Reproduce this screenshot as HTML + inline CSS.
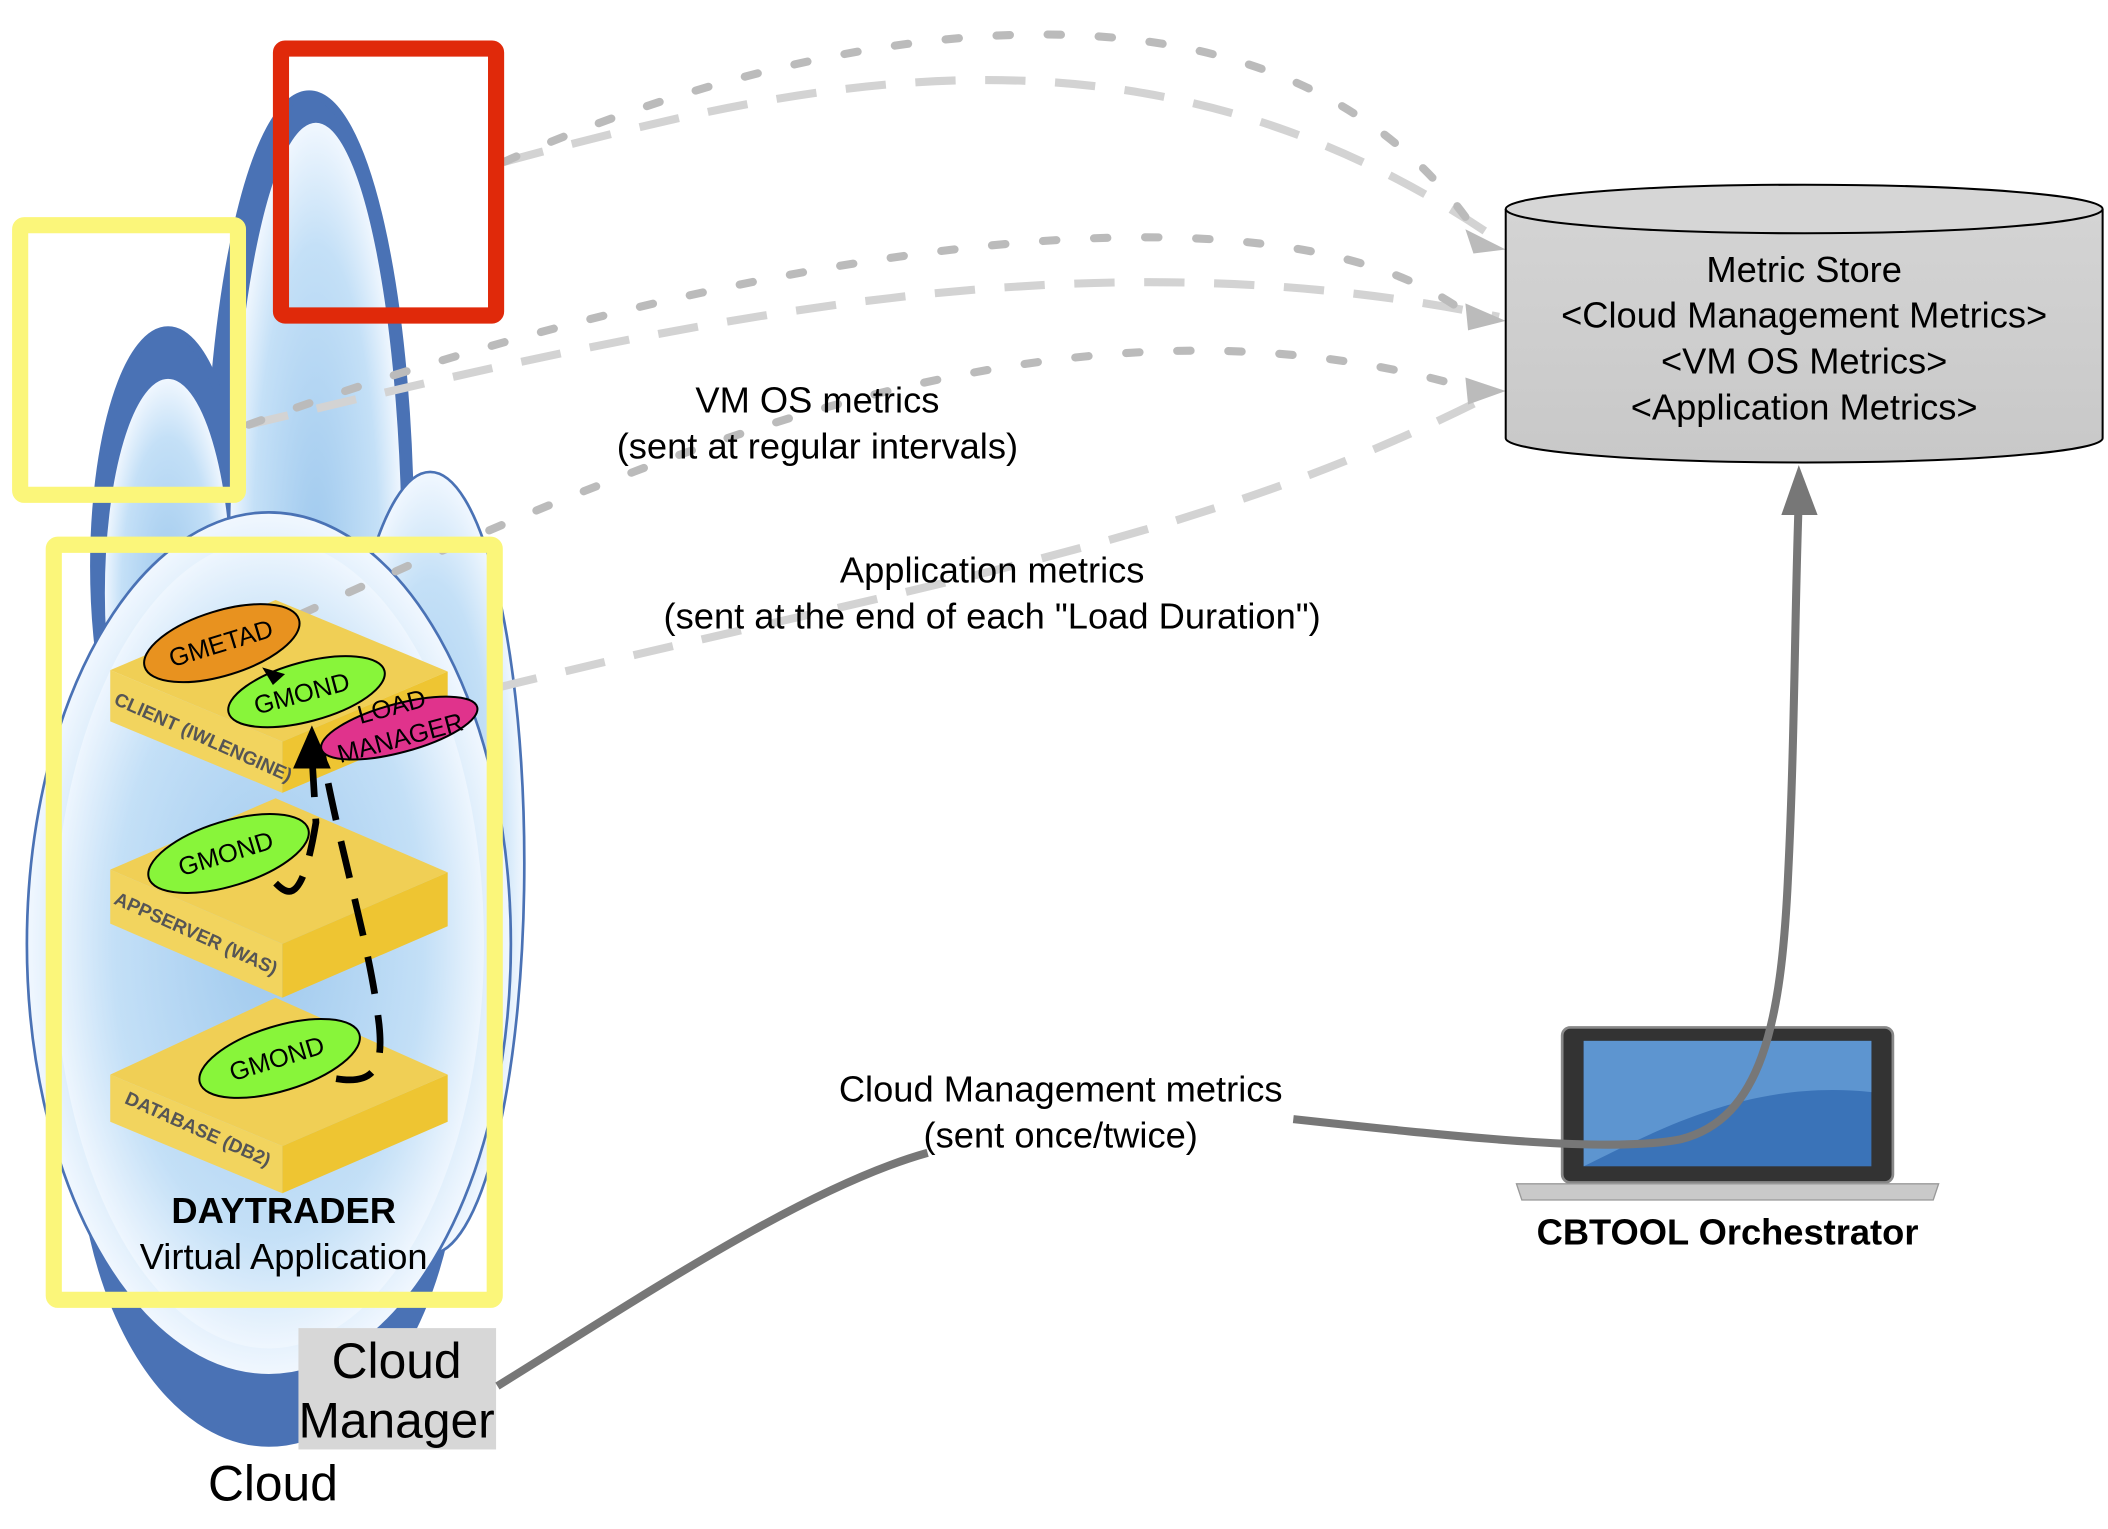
<!DOCTYPE html>
<html><head><meta charset="utf-8"><style>
html,body{margin:0;padding:0;background:#fff;}
svg{display:block;}
text{font-family:"Liberation Sans",sans-serif;}
</style></head><body>
<svg width="2108" height="1529" viewBox="0 0 1568 1134" preserveAspectRatio="none" xmlns="http://www.w3.org/2000/svg">
<defs>
<radialGradient id="cg" cx="50%" cy="50%" r="60%">
<stop offset="0" stop-color="#9fc9ee"/><stop offset="0.6" stop-color="#c4e0f7"/><stop offset="0.85" stop-color="#f4f9ff"/><stop offset="1" stop-color="#a9cff0"/>
</radialGradient>
<linearGradient id="cyl" x1="0" x2="0" y1="0" y2="1"><stop offset="0" stop-color="#d4d4d4"/><stop offset="1" stop-color="#c8c8c8"/></linearGradient>
</defs>
<!-- cloud -->
<g stroke="#4a72b5" stroke-width="6">
<ellipse cx="230" cy="400" rx="75" ry="330" fill="#4a72b5"/>
<ellipse cx="125" cy="420" rx="55" ry="175" fill="#4a72b5"/>
<ellipse cx="200" cy="830" rx="140" ry="240" fill="#4a72b5"/>
</g>
<g stroke="#4a72b5" stroke-width="2">
<ellipse cx="235" cy="420" rx="65" ry="330" fill="url(#cg)"/>
<ellipse cx="125" cy="440" rx="48" ry="160" fill="url(#cg)"/>
<ellipse cx="320" cy="640" rx="70" ry="290" fill="url(#cg)"/>
<ellipse cx="200" cy="700" rx="180" ry="320" fill="url(#cg)"/>
</g>
<ellipse cx="200" cy="700" rx="160" ry="300" fill="url(#cg)" opacity="0.8"/>
<!-- dashed light lines -->
<g fill="none" stroke="#d3d3d3" stroke-width="6" stroke-dasharray="30,22">
<path d="M375,120 C600,60 850,0 1110,175"/>
<path d="M185,315 C500,240 800,170 1115,235"/>
<path d="M370,510 C700,430 900,400 1115,290"/>
</g>
<g fill="none" stroke="#bbbbbb" stroke-width="6" stroke-dasharray="10,28" stroke-linecap="round">
<path d="M375,120 C600,20 950,-50 1100,175"/>
<path d="M185,315 C500,200 950,110 1100,240"/>
<path d="M225,455 C500,330 800,200 1100,290"/>
</g>
<g fill="#bbbbbb"><path d="M1120,185 L1090,170 L1096,188 z"/><path d="M1120,238 L1090,225 L1092,245 z"/><path d="M1120,290 L1090,280 L1092,300 z"/></g>
<!-- boxes -->
<g>
<polygon points="82,797 205,740 333,797 210,850" fill="#f0cf55"/>
<polygon points="82,797 210,850 210,885 82,832" fill="#f2d45e"/>
<polygon points="210,850 333,797 333,832 210,885" fill="#eec532"/>
<polygon points="82,645 205,592 333,647 210,700" fill="#f0cf55"/>
<polygon points="82,645 210,700 210,740 82,685" fill="#f2d45e"/>
<polygon points="210,700 333,647 333,687 210,740" fill="#eec532"/>
<polygon points="82,497 205,445 333,498 210,550" fill="#f0cf55"/>
<polygon points="82,497 210,550 210,588 82,535" fill="#f2d45e"/>
<polygon points="210,550 333,498 333,536 210,588" fill="#eec532"/>
</g>
<g font-size="14" font-weight="bold" fill="#555">
<text transform="translate(84,522) rotate(24)">CLIENT (IWLENGINE)</text>
<text transform="translate(84,670) rotate(24)">APPSERVER (WAS)</text>
<text transform="translate(92,818) rotate(24)">DATABASE (DB2)</text>
</g>
<!-- ellipses -->
<g stroke="#000" stroke-width="1.5">
<ellipse cx="165" cy="477" rx="60" ry="24" transform="rotate(-17 165 477)" fill="#e8921f"/>
<ellipse cx="228" cy="513" rx="60" ry="22" transform="rotate(-15 228 513)" fill="#88f53a"/>
<ellipse cx="297" cy="540" rx="60" ry="18" transform="rotate(-15 297 540)" fill="#e0338c"/>
<ellipse cx="170" cy="633" rx="62" ry="24" transform="rotate(-17 170 633)" fill="#88f53a"/>
<ellipse cx="208" cy="785" rx="62" ry="24" transform="rotate(-17 208 785)" fill="#88f53a"/>
</g>
<g font-size="19" fill="#000">
<text transform="translate(128,495) rotate(-17)">GMETAD</text>
<text transform="translate(191,530) rotate(-15)">GMOND</text>
<text transform="translate(268,537) rotate(-15)">LOAD</text>
<text transform="translate(253,566) rotate(-15)">MANAGER</text>
<text transform="translate(135,650) rotate(-17)">GMOND</text>
<text transform="translate(173,802) rotate(-17)">GMOND</text>
</g>
<path d="M195,495 L212,500 L203,508 z" fill="#000"/>
<!-- black dashed arrows -->
<g fill="none" stroke="#000" stroke-width="5" stroke-dasharray="28,16">
<path d="M205,655 C215,665 225,670 235,610 L232,560"/>
<path d="M250,800 C280,805 285,790 282,760 C275,700 255,640 240,560"/>
</g>
<path d="M218,570 L232,538 L246,570 z" fill="#000"/>
<!-- yellow boxes -->
<g fill="none" stroke="#fbf67a" stroke-width="12">
<rect x="15" y="167" width="162" height="200" rx="3"/>
<rect x="40" y="404" width="328" height="560" rx="3"/>
</g>
<rect x="209" y="36" width="160" height="198" rx="3" fill="none" stroke="#e0290a" stroke-width="12"/>
<!-- labels -->
<text x="211" y="907" font-size="27" font-weight="bold" text-anchor="middle">DAYTRADER</text>
<text x="211" y="941" font-size="27" text-anchor="middle">Virtual Application</text>
<rect x="222" y="985" width="147" height="90" fill="#d7d7d7"/>
<text x="295" y="1022" font-size="37" text-anchor="middle">Cloud</text>
<text x="295" y="1066" font-size="37" text-anchor="middle">Manager</text>
<text x="203" y="1113" font-size="37" text-anchor="middle">Cloud</text>
<g font-size="27" text-anchor="middle">
<text x="608" y="306">VM OS metrics</text>
<text x="608" y="340">(sent at regular intervals)</text>
<text x="738" y="432">Application metrics</text>
<text x="738" y="466">(sent at the end of each "Load Duration")</text>
<text x="789" y="817">Cloud Management metrics</text>
<text x="789" y="851">(sent once/twice)</text>
</g>
<!-- cylinder -->
<path d="M1120,155 L1120,325 A222,18 0 0 0 1564,325 L1564,155" fill="url(#cyl)" stroke="#000" stroke-width="1.5"/>
<ellipse cx="1342" cy="155" rx="222" ry="18" fill="#d6d6d6" stroke="#000" stroke-width="1.5"/>
<g font-size="27" text-anchor="middle">
<text x="1342" y="209">Metric Store</text>
<text x="1342" y="243">&lt;Cloud Management Metrics&gt;</text>
<text x="1342" y="277">&lt;VM OS Metrics&gt;</text>
<text x="1342" y="311">&lt;Application Metrics&gt;</text>
</g>
<!-- laptop -->
<rect x="1162" y="762" width="246" height="115" rx="6" fill="#333" stroke="#888" stroke-width="2"/>
<rect x="1178" y="772" width="214" height="93" fill="#3a73b8"/>
<path d="M1178,772 L1392,772 L1392,810 C1300,800 1230,840 1178,865 z" fill="#5d95d0"/>
<path d="M1128,878 L1442,878 L1438,890 L1132,890 z" fill="#c9c9c9" stroke="#999" stroke-width="1"/>
<text x="1285" y="923" font-size="27" font-weight="bold" text-anchor="middle">CBTOOL Orchestrator</text>
<!-- gray solid lines -->
<g fill="none" stroke="#777" stroke-width="6">
<path d="M370,1028 C480,960 600,880 690,855"/>
<path d="M962,830 C1100,845 1200,855 1250,845 C1310,830 1325,760 1330,650 C1335,550 1335,450 1338,370"/>
</g>
<path d="M1338,345 L1325,382 L1352,382 z" fill="#777"/>
</svg>
</body></html>
